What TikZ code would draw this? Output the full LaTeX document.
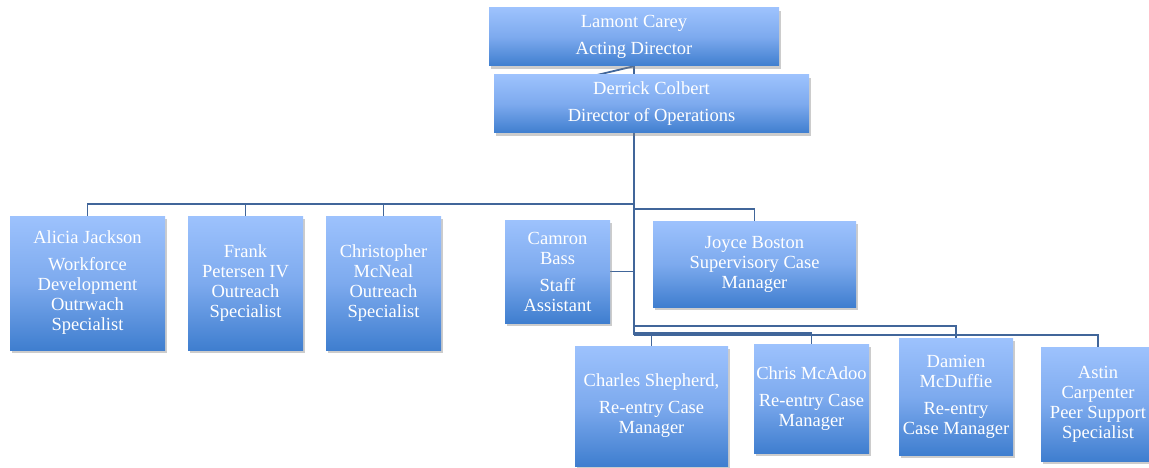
\documentclass[tikz,border=0pt]{standalone}
\usepackage{fontspec}
\setmainfont{Liberation Serif}
\usepackage{tikz}
\usetikzlibrary{positioning, calc, backgrounds, shadows}
\definecolor{BoxTop}{HTML}{9DC2FD}
\definecolor{BoxMid}{HTML}{7DAAEE}
\definecolor{BoxBottom}{HTML}{3F7ECF}
\definecolor{LineBlue}{HTML}{41669A}
\tikzset{
    staffbox/.style={rectangle, top color=BoxTop, bottom color=BoxBottom,
          middle color=BoxMid, text=white, align=center, inner sep=0pt,
          font=\fontsize{18.5}{20}\selectfont,
          drop shadow={shadow xshift=2pt, shadow yshift=-3pt, opacity=0.4}},
    link/.style={draw=LineBlue, line width=1.8pt}
}

\begin{document}
\begin{tikzpicture}[x=1pt, y=-1pt]
    \clip (0,0) rectangle (1149,468);

    % top of the chart
    \node[staffbox, minimum width=290pt, minimum height=58pt] (lamont) at (634,37)
        {Lamont Carey\\[7pt] Acting Director};
    \node[staffbox, minimum width=315pt, minimum height=58pt] (derrick) at (651.5,104)
        {Derrick Colbert\\[7pt] Director of Operations};

    % first row
    \node[staffbox, minimum width=155pt, minimum height=134pt] (alicia) at (87.5,283)
        {Alicia Jackson\\[7pt] Workforce\\ Development\\ Outrwach\\ Specialist};
    \node[staffbox, minimum width=115pt, minimum height=134pt] (frank) at (245.5,283)
        {Frank\\ Petersen IV\\ Outreach\\ Specialist};
    \node[staffbox, minimum width=115pt, minimum height=134pt] (mcneal) at (383.5,283)
        {Christopher\\ McNeal\\ Outreach\\ Specialist};
    \node[staffbox, minimum width=105pt, minimum height=103pt] (camron) at (557.5,271.5)
        {Camron\\ Bass\\[7pt] Staff\\ Assistant};
    \node[staffbox, minimum width=203pt, minimum height=86pt] (joyce) at (754.5,264)
        {Joyce Boston\\ Supervisory Case\\ Manager};

    % second row
    \node[staffbox, minimum width=153pt, minimum height=120pt] (charles) at (651.5,406)
        {Charles Shepherd,\\[7pt] Re-entry Case\\ Manager};
    \node[staffbox, minimum width=115pt, minimum height=109pt] (mcadoo) at (811.5,398.5)
        {Chris McAdoo\\[7pt] Re-entry Case\\ Manager};
    \node[staffbox, minimum width=114pt, minimum height=117pt] (damien) at (956,396.5)
        {Damien\\ McDuffie\\[7pt] Re-entry\\ Case Manager};
    \node[staffbox, minimum width=114pt, minimum height=114pt] (astin) at (1098,404)
        {Astin\\ Carpenter\\ Peer Support\\ Specialist};

    \coordinate (kink) at (597,75);
    \coordinate (bar) at (634,204);
    \coordinate (joycebar) at (634,209);
    \coordinate (damienbar) at (634,326);
    \coordinate (mcadoobar) at (634,333);
    \coordinate (lowbar) at (634,335);

    \begin{scope}[on background layer]
        \draw[link] (lamont.south) -- (kink);
        \draw[link] (lamont.south) -- (lamont.south |- derrick.north);
        \draw[link] (lamont.south |- derrick.south) -- (lowbar);
        \draw[link] (bar) -| (alicia.north);
        \draw[link] (bar) -| (frank.north);
        \draw[link] (bar) -| (mcneal.north);
        \draw[link] (camron.east) -- (camron.east -| bar);
        \draw[link] (joycebar) -| (joyce.north);
        \draw[link] (damienbar) -| (damien.north);
        \draw[link] (mcadoobar) -| (mcadoo.north);
        \draw[link] (lowbar) -| (charles.north);
        \draw[link] (lowbar) -| (astin.north);
    \end{scope}
\end{tikzpicture}
\end{document}
